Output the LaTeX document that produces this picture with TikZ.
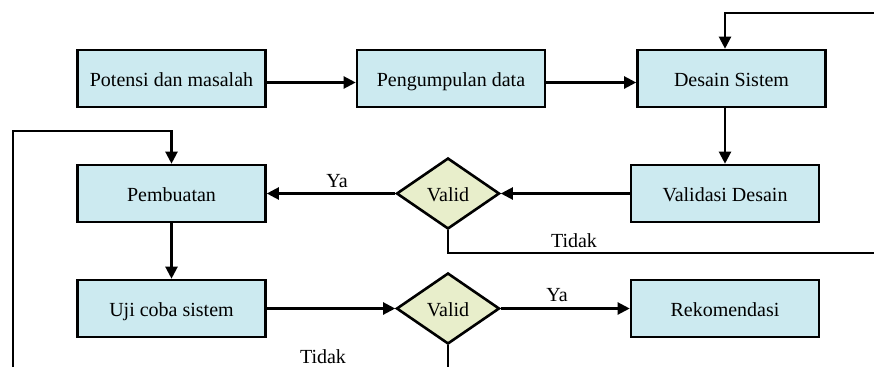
\documentclass[tikz,border=0pt]{standalone}
\usepackage{fontspec}
\setmainfont{Liberation Serif}
\usetikzlibrary{shapes.geometric,arrows.meta,calc}
\definecolor{boxfill}{RGB}{204,234,240}
\definecolor{dfill}{RGB}{232,238,203}
\begin{document}
\begin{tikzpicture}[x=1pt,y=-1pt,
  font=\fontsize{20}{24}\selectfont,
  stepbox/.style={draw=black,line width=2.6pt,fill=boxfill,rectangle,minimum width=188pt,minimum height=57pt,inner sep=0pt,text height=15pt,text depth=0pt},
  decis/.style={draw=black,line width=2.6pt,fill=dfill,diamond,minimum width=103pt,minimum height=71pt,inner sep=0pt,text height=15pt,text depth=0pt},
  arr/.style={line width=2.2pt,-{Triangle[length=12pt,width=12pt]}},
  ln/.style={line width=2.2pt},
  lbl/.style={inner sep=0pt}]
\useasboundingbox (0,0) rectangle (874,367);
\node[stepbox] (b1) at (171.5,78.5) {Potensi dan masalah};
\node[stepbox] (b2) at (451,78.5) {Pengumpulan data};
\node[stepbox] (b3) at (731.5,78.5) {Desain Sistem};
\node[stepbox] (val) at (725,193.5) {Validasi Desain};
\node[stepbox] (pem) at (171.5,193.5) {Pembuatan};
\node[stepbox] (uji) at (171.5,308.5) {Uji coba sistem};
\node[stepbox] (rek) at (725,308.5) {Rekomendasi};
\node[decis] (d1) at (448,193.5) {Valid};
\node[decis] (d2) at (448,308.5) {Valid};
\coordinate (tr) at (874,13);
\coordinate (tdk) at (874,253);
\coordinate (bot) at (448,367);
\coordinate (bl) at (13,367);
\coordinate (lc) at (13,131);
\draw[arr] ([yshift=-4pt]b1.east) -- ([yshift=-4pt]b2.west);
\draw[arr] ([yshift=-4pt]b2.east) -- ([yshift=-4pt]b3.west);
\draw[arr] (tr) -| (b3.north -| val.north);
\draw[arr] (b3.south -| val.north) -- (val.north);
\draw[arr] (val.west) -- (d1.east);
\draw[arr] (d1.west) -- (pem.east);
\draw[ln] (d1.south) |- (tdk);
\draw[arr] (pem.south) -- (uji.north);
\draw[arr] (uji.east) -- (d2.west);
\draw[arr] (d2.east) -- (rek.west);
\draw[ln] (d2.south) -- (bot);
\draw[arr] (bl) -- (lc) -| (pem.north);
\node[lbl] (ya1) at (337,181) {Ya};
\node[lbl] (ya2) at (557,295) {Ya};
\node[lbl] (t1) at (574,241) {Tidak};
\node[lbl] (t2) at (323,357) {Tidak};
\end{tikzpicture}
\end{document}
